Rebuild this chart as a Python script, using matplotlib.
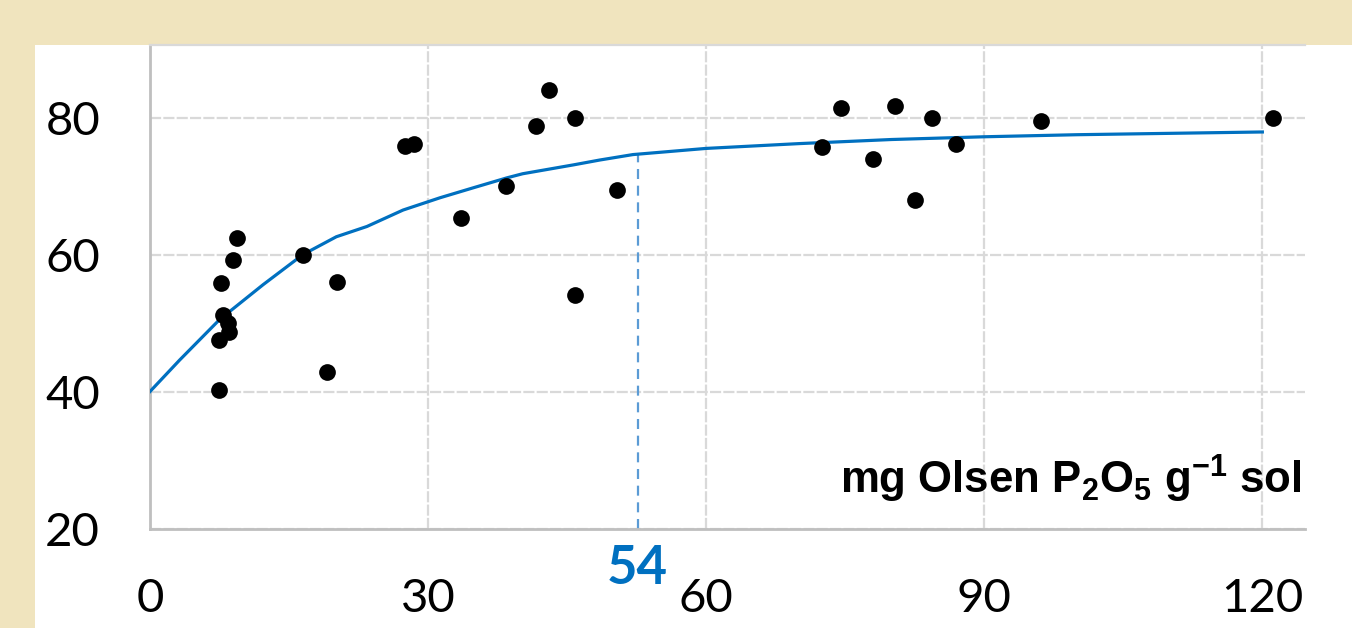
"""Olsen P response curve"""

import matplotlib

matplotlib.use("Agg")
import matplotlib.pyplot as plt
from matplotlib.patches import Rectangle

# observed points (x: mg Olsen P2O5 per g soil, y: relative yield)
obs_x = [7.4, 7.4, 7.7, 7.9, 8.4, 8.5, 9.0, 9.4, 16.5, 19.1, 20.2,
         27.5, 28.5, 33.5, 38.4, 41.6, 43.0, 45.8, 45.8, 50.4,
         72.5, 74.5, 78.0, 80.4, 82.5, 84.4, 87.0, 96.1, 121.2]
obs_y = [40.2, 47.5, 55.8, 51.2, 50.0, 48.7, 59.2, 62.4, 60.0, 42.9, 56.0,
         75.8, 76.2, 65.3, 70.0, 78.8, 84.1, 80.0, 54.1, 69.4,
         75.7, 81.4, 74.0, 81.7, 68.0, 80.0, 76.2, 79.5, 80.0]

# fitted curve
fit_x = [0, 3.2, 7.5, 12.2, 16.5, 20.1, 23.4, 27.3, 31.3, 35.0, 38.5,
         40.2, 45.7, 48.5, 52.1, 60, 70, 80, 90, 100, 110, 120]
fit_y = [40.0, 44.6, 50.5, 55.6, 60.0, 62.6, 64.1, 66.5, 68.3, 69.8, 71.2,
         71.8, 73.1, 73.8, 74.6, 75.5, 76.2, 76.8, 77.2, 77.5, 77.7, 77.9]

threshold_x = 52.6
threshold_y = 74.5
threshold_label = "54"

x_ticks = [0, 30, 60, 90, 120]
y_ticks = [20, 40, 60, 80]
x_label = r"mg Olsen P$_{\mathbf{2}}$O$_{\mathbf{5}}$ g$^{\mathbf{-1}}$ sol"

BLUE = "#0070C0"
GRID = "#D9D9D9"
AXIS = "#BFBFBF"

plt.rcParams["mathtext.fontset"] = "custom"
plt.rcParams["mathtext.rm"] = "Liberation Sans"
plt.rcParams["mathtext.bf"] = "Liberation Sans:bold"

fig = plt.figure(figsize=(13.52, 6.28), dpi=100)
fig.patch.set_facecolor("#F0E4BE")
# white panel behind the chart
fig.patches.append(Rectangle((35 / 1352, 0), 1 - 35 / 1352, 583 / 628,
                             transform=fig.transFigure, facecolor="white",
                             edgecolor="none", zorder=-10))

ax = fig.add_axes([150 / 1352, 99.5 / 628, 1155 / 1352, 483.5 / 628])
ax.set_facecolor("white")
ax.set_xlim(0, 124.6)
ax.set_ylim(20, 90.6)

ax.grid(True, color=GRID, linewidth=1.6, linestyle=(0, (5, 1)))
ax.set_axisbelow(True)

ax.plot(fit_x, fit_y, color=BLUE, linewidth=2.3, zorder=3)
ax.scatter(obs_x, obs_y, s=145, color="black", zorder=4, linewidths=0)

ax.plot([threshold_x, threshold_x], [20, threshold_y], color="#5B9BD5",
        linewidth=1.6, linestyle=(0, (4.5, 3)), zorder=2)
ax.text(threshold_x, -0.032, threshold_label, transform=ax.get_xaxis_transform(),
        ha="center", va="top", color=BLUE, fontsize=38, fontweight="bold",
        family="Lato")

ax.set_xticks(x_ticks)
ax.set_yticks(y_ticks)
ax.tick_params(length=0, labelsize=34, colors="black")
ax.tick_params(axis="x", pad=36)
ax.tick_params(axis="y", pad=36)
for lbl in ax.get_xticklabels() + ax.get_yticklabels():
    lbl.set_family("Lato")

for side in ["left", "bottom"]:
    ax.spines[side].set_color(AXIS)
    ax.spines[side].set_linewidth(2)
ax.spines["top"].set_color(GRID)
ax.spines["top"].set_linewidth(1.6)
ax.spines["right"].set_visible(False)

ax.text(0.997, 0.073, x_label, transform=ax.transAxes, ha="right",
        va="baseline", fontsize=31.5, fontweight="bold", family="Liberation Sans")

fig.savefig("out.png", dpi=100)
